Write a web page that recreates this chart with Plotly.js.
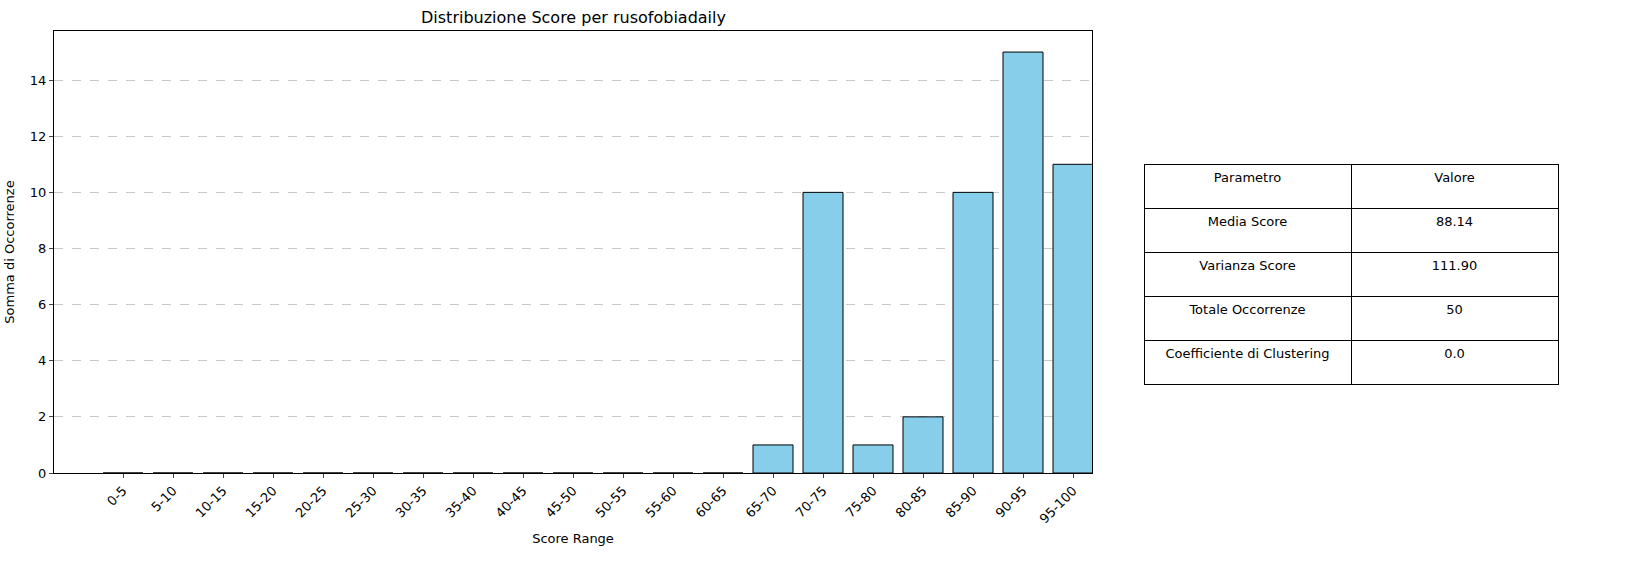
<!DOCTYPE html>
<html>
<head>
<meta charset="utf-8">
<script src="https://cdn.plot.ly/plotly-3.0.1.min.js"></script>
<style>body{margin:0;background:#fff}</style>
</head>
<body>
<div id="grafico" style="width:1640px;height:578px"></div>
<script>
var ranges = ['0-5','5-10','10-15','15-20','20-25','25-30','30-35','35-40','40-45','45-50',
  '50-55','55-60','60-65','65-70','70-75','75-80','80-85','85-90','90-95','95-100'];
var counts = [0,0,0,0,0,0,0,0,0,0,0,0,0,1,10,1,2,10,15,11];
var paramNames = ['Media Score','Varianza Score','Totale Occorrenze','Coefficiente di Clustering'];
var paramValues = ['88.14','111.90','50','0.0'];

var bars = {
  x: ranges,
  y: counts,
  type: 'bar',
  width: 0.8,
  marker: {color: '#87ceeb', line: {color: 'black', width: 1}},
  hoverinfo: 'x+y'
};

var table = {
  type: 'table',
  domain: {x: [1144/1640, 1558/1640], y: [1 - 395/578, 1 - 164/578]},
  columnwidth: [1, 1],
  header: {
    values: ['Parametro', 'Valore'],
    height: 44,
    align: 'center',
    fill: {color: 'white'},
    line: {color: 'black', width: 1},
    font: {family: 'DejaVu Sans', size: 13, color: 'black'}
  },
  cells: {
    values: [paramNames, paramValues],
    height: 44,
    align: 'center',
    fill: {color: 'white'},
    line: {color: 'black', width: 1},
    font: {family: 'DejaVu Sans', size: 13, color: 'black'}
  }
};

var layout = {
  width: 1640, height: 578,
  margin: {l: 0, r: 0, t: 0, b: 0},
  paper_bgcolor: 'white', plot_bgcolor: 'white',
  font: {family: 'DejaVu Sans', size: 13, color: 'black'},
  showlegend: false,
  xaxis: {
    domain: [54/1640, 1092/1640],
    range: [-1.38, 19.38],
    tickangle: -45,
    ticks: 'outside', ticklen: 4,
    showline: true, mirror: true, linecolor: 'black',
    showgrid: false,
    title: {text: 'Score Range', standoff: 8, font: {size: 13}}
  },
  yaxis: {
    domain: [1 - 473/578, 1 - 31/578],
    range: [0, 15.75],
    dtick: 2,
    ticks: 'outside', ticklen: 4,
    showline: true, mirror: true, linecolor: 'black',
    showgrid: true, gridcolor: '#c8c8c8', griddash: 'dash',
    zeroline: false,
    title: {text: 'Somma di Occorrenze', standoff: 12, font: {size: 13}}
  },
  annotations: [{
    text: 'Distribuzione Score per rusofobiadaily',
    xref: 'paper', yref: 'paper',
    x: 573/1640, y: 1 - 17/578,
    xanchor: 'center', yanchor: 'middle',
    showarrow: false,
    font: {size: 16}
  }]
};

Plotly.newPlot('grafico', [bars, table], layout, {displayModeBar: false});
</script>
</body>
</html>
